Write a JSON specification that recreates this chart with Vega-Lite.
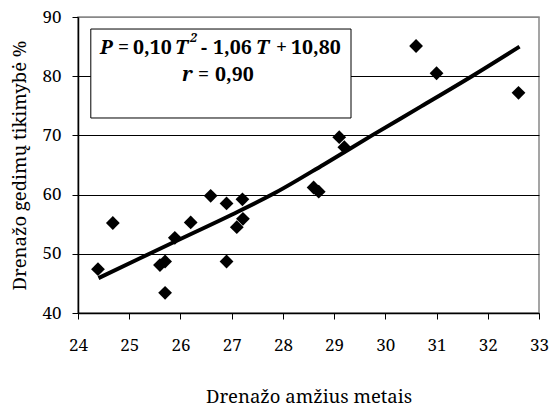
{
  "$schema": "https://vega.github.io/schema/vega-lite/v6.json",
  "width": 461,
  "height": 296,
  "autosize": "none",
  "padding": {"left": 78, "top": 17, "right": 11, "bottom": 95},
  "background": "white",
  "config": {
    "view": {"stroke": "#888888", "strokeWidth": 1.5},
    "font": "Noto Serif"
  },
  "datasets": {
    "pts": [
      {"age": 24.39, "p": 47.4},
      {"age": 24.68, "p": 55.2},
      {"age": 25.60, "p": 48.1},
      {"age": 25.70, "p": 48.7},
      {"age": 25.70, "p": 43.4},
      {"age": 25.89, "p": 52.7},
      {"age": 26.20, "p": 55.3},
      {"age": 26.59, "p": 59.8},
      {"age": 26.90, "p": 58.5},
      {"age": 26.90, "p": 48.7},
      {"age": 27.10, "p": 54.5},
      {"age": 27.22, "p": 55.9},
      {"age": 27.21, "p": 59.2},
      {"age": 28.60, "p": 61.2},
      {"age": 28.70, "p": 60.5},
      {"age": 29.10, "p": 69.7},
      {"age": 29.20, "p": 68.0},
      {"age": 30.60, "p": 85.1},
      {"age": 31.00, "p": 80.5},
      {"age": 32.60, "p": 77.2}
    ],
    "trend": [
      {"age": 24.4, "p": 45.9},
      {"age": 25.2, "p": 49.2},
      {"age": 26.0, "p": 52.5},
      {"age": 27.0, "p": 56.6},
      {"age": 27.85, "p": 60.3},
      {"age": 28.8, "p": 65.1},
      {"age": 29.74, "p": 70.0},
      {"age": 30.7, "p": 74.9},
      {"age": 31.69, "p": 80.0},
      {"age": 32.62, "p": 85.0}
    ],
    "box": [
      {"x1": 24.25, "x2": 29.33, "y1": 72.94, "y2": 87.97}
    ],
    "italic": [
      {"x": 24.43, "y": 83.75, "t": "P"},
      {"x": 25.894, "y": 83.75, "t": "T"},
      {"x": 27.475, "y": 83.75, "t": "T"},
      {"x": 26.03, "y": 79.19, "t": "r"}
    ],
    "upright": [
      {"x": 24.781, "y": 83.75, "t": "="},
      {"x": 25.074, "y": 83.75, "t": "0,10"},
      {"x": 26.401, "y": 83.75, "t": "-"},
      {"x": 26.636, "y": 83.75, "t": "1,06"},
      {"x": 27.866, "y": 83.75, "t": "+"},
      {"x": 28.159, "y": 83.75, "t": "10,80"},
      {"x": 26.343, "y": 79.19, "t": "="},
      {"x": 26.675, "y": 79.19, "t": "0,90"}
    ],
    "sup": [
      {"x": 26.187, "y": 85.78, "t": "2"}
    ]
  },
  "encoding": {},
  "layer": [
    {
      "data": {"name": "pts"},
      "mark": {"type": "point", "shape": "diamond", "filled": true, "color": "black", "size": 190, "opacity": 1},
      "encoding": {
        "x": {
          "field": "age", "type": "quantitative",
          "scale": {"domain": [24, 33], "nice": false, "zero": false},
          "axis": {
            "title": "Drenažo amžius metais",
            "values": [24, 25, 26, 27, 28, 29, 30, 31, 32, 33],
            "grid": false,
            "domainColor": "black",
            "domainWidth": 1.5,
            "tickColor": "black",
            "tickSize": 6,
            "labelFont": "Noto Serif",
            "labelFontSize": 17,
            "labelColor": "black",
            "labelPadding": 18,
            "labelFlush": false,
            "titleFont": "Noto Serif",
            "titleFontSize": 18.5,
            "titleFontWeight": "normal",
            "titleColor": "black",
            "titlePadding": 34
          }
        },
        "y": {
          "field": "p", "type": "quantitative",
          "scale": {"domain": [40, 90], "nice": false, "zero": false},
          "axis": {
            "title": "Drenažo gedimų tikimybė %",
            "values": [40, 50, 60, 70, 80, 90],
            "grid": true,
            "gridColor": {"condition": {"test": "datum.value == 90", "value": "#888888"}, "value": "black"},
            "gridWidth": 1,
            "gridOpacity": 1,
            "domainColor": "black",
            "domainWidth": 1.5,
            "tickColor": "black",
            "tickSize": 6,
            "labelFont": "Noto Serif",
            "labelFontSize": 17,
            "labelColor": "black",
            "labelPadding": 11,
            "labelFlush": false,
            "titleFont": "Noto Serif",
            "titleFontSize": 18.5,
            "titleFontWeight": "normal",
            "titleColor": "black",
            "titlePadding": 12
          }
        }
      }
    },
    {
      "data": {"name": "trend"},
      "mark": {"type": "line", "color": "black", "strokeWidth": 4, "interpolate": "monotone"},
      "encoding": {
        "x": {"field": "age", "type": "quantitative"},
        "y": {"field": "p", "type": "quantitative"}
      }
    },
    {
      "data": {"name": "box"},
      "mark": {"type": "rect", "fill": "white", "stroke": "black", "strokeWidth": 1},
      "encoding": {
        "x": {"field": "x1", "type": "quantitative"},
        "x2": {"field": "x2"},
        "y": {"field": "y1", "type": "quantitative"},
        "y2": {"field": "y2"}
      }
    },
    {
      "data": {"name": "italic"},
      "mark": {"type": "text", "font": "Noto Serif", "fontWeight": "bold", "fontStyle": "italic", "fontSize": 19.5, "color": "black", "align": "left", "baseline": "alphabetic"},
      "encoding": {
        "x": {"field": "x", "type": "quantitative"},
        "y": {"field": "y", "type": "quantitative"},
        "text": {"field": "t"}
      }
    },
    {
      "data": {"name": "upright"},
      "mark": {"type": "text", "font": "Noto Serif", "fontWeight": "bold", "fontSize": 19.5, "color": "black", "align": "left", "baseline": "alphabetic"},
      "encoding": {
        "x": {"field": "x", "type": "quantitative"},
        "y": {"field": "y", "type": "quantitative"},
        "text": {"field": "t"}
      }
    },
    {
      "data": {"name": "sup"},
      "mark": {"type": "text", "font": "Noto Serif", "fontWeight": "bold", "fontStyle": "italic", "fontSize": 12.5, "color": "black", "align": "left", "baseline": "alphabetic"},
      "encoding": {
        "x": {"field": "x", "type": "quantitative"},
        "y": {"field": "y", "type": "quantitative"},
        "text": {"field": "t"}
      }
    }
  ]
}
